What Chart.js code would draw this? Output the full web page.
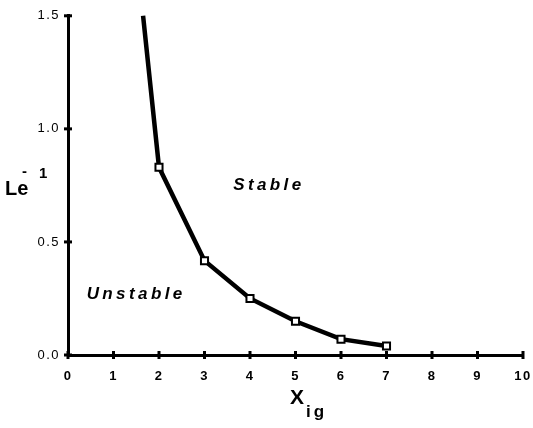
<!DOCTYPE html>
<html>
<head>
<meta charset="utf-8">
<script src="https://cdn.jsdelivr.net/npm/chart.js@4/dist/chart.umd.min.js"></script>
<style>
html,body{margin:0;padding:0;background:#fff;}
#wrap{width:533px;height:428px;}
</style>
</head>
<body>
<div id="wrap"><canvas id="c" width="533" height="428"></canvas></div>
<script>
// Data
const xIg = [1.65, 2, 3, 4, 5, 6, 7];
const leInv = [1.5, 0.83, 0.417, 0.25, 0.149, 0.07, 0.04];
const xTicks = [0,1,2,3,4,5,6,7,8,9,10];
const yTicks = [0.0, 0.5, 1.0, 1.5];
const regionLabels = ['Stable', 'Unstable'];
const regionPos = [[3.63, 0.75], [0.41, 0.27]];

const points = xIg.map((x, i) => ({x: x, y: leInv[i]}));

const FONT = '"Liberation Sans", Arial, Helvetica, sans-serif';

const annot = {
  id: 'annot',
  beforeDraw(chart) { chart.ctx.letterSpacing = '1.5px'; },
  afterDraw(chart) {
    const ctx = chart.ctx;
    const xs = chart.scales.x, ys = chart.scales.y;
    ctx.save();
    ctx.fillStyle = '#000';
    ctx.strokeStyle = '#000';
    // tick nubs on the axes
    ctx.lineWidth = 3;
    xTicks.forEach(v => {
      const px = xs.getPixelForValue(v);
      ctx.beginPath();
      ctx.moveTo(px, ys.bottom - 4);
      ctx.lineTo(px, ys.bottom + 4);
      ctx.stroke();
    });
    yTicks.forEach(v => {
      const py = ys.getPixelForValue(v);
      ctx.beginPath();
      ctx.moveTo(xs.left - 4, py);
      ctx.lineTo(xs.left + 4, py);
      ctx.stroke();
    });
    // region labels
    ctx.font = 'italic bold 17px ' + FONT;
    ctx.letterSpacing = '3.4px';
    ctx.textBaseline = 'middle';
    ctx.textAlign = 'left';
    regionLabels.forEach((t, i) => {
      ctx.fillText(t, xs.getPixelForValue(regionPos[i][0]), ys.getPixelForValue(regionPos[i][1]));
    });
    // y axis title: Le^-1
    ctx.letterSpacing = '0px';
    ctx.textBaseline = 'alphabetic';
    ctx.font = 'bold 20px ' + FONT;
    ctx.fillText('Le', 5, 195);
    ctx.font = 'bold 15px ' + FONT;
    ctx.fillText('-', 22, 176);
    ctx.fillText('1', 39, 178);
    // x axis title: X_ig
    ctx.font = 'bold 21px ' + FONT;
    ctx.fillText('X', 290, 404);
    ctx.font = 'bold 17px ' + FONT;
    ctx.letterSpacing = '3px';
    ctx.fillText('ig', 306, 417);
    ctx.restore();
  }
};

new Chart(document.getElementById('c'), {
  type: 'scatter',
  data: {
    datasets: [{
      data: points,
      showLine: true,
      borderColor: '#000',
      borderWidth: 4.5,
      tension: 0,
      pointStyle: 'rect',
      pointRadius: ctx => ctx.dataIndex === 0 ? 0 : 5,
      pointBackgroundColor: '#fff',
      pointBorderColor: '#000',
      pointBorderWidth: 2,
      clip: false
    }]
  },
  options: {
    responsive: false,
    animation: false,
    events: [],
    layout: { padding: { top: 13, right: 0, left: 0, bottom: 0 } },
    plugins: { legend: { display: false }, tooltip: { enabled: false } },
    scales: {
      x: {
        type: 'linear', min: 0, max: 10,
        afterFit: s => { s.height = 73; s.paddingRight = 10; },
        afterBuildTicks: s => { s.ticks = xTicks.map(v => ({value: v})); },
        border: { display: true, color: '#000', width: 3 },
        grid: { display: false, drawTicks: false },
        ticks: { padding: 14, color: '#000', font: { family: FONT, size: 13, weight: 'bold' }, maxRotation: 0 }
      },
      y: {
        type: 'linear', min: 0, max: 1.5,
        afterFit: s => { s.width = 68; },
        afterBuildTicks: s => { s.ticks = yTicks.map(v => ({value: v})); },
        border: { display: true, color: '#000', width: 3 },
        grid: { display: false, drawTicks: false },
        ticks: { padding: 8, color: '#000', font: { family: FONT, size: 13 }, callback: v => v.toFixed(1) }
      }
    }
  },
  plugins: [annot]
});
</script>
</body>
</html>
